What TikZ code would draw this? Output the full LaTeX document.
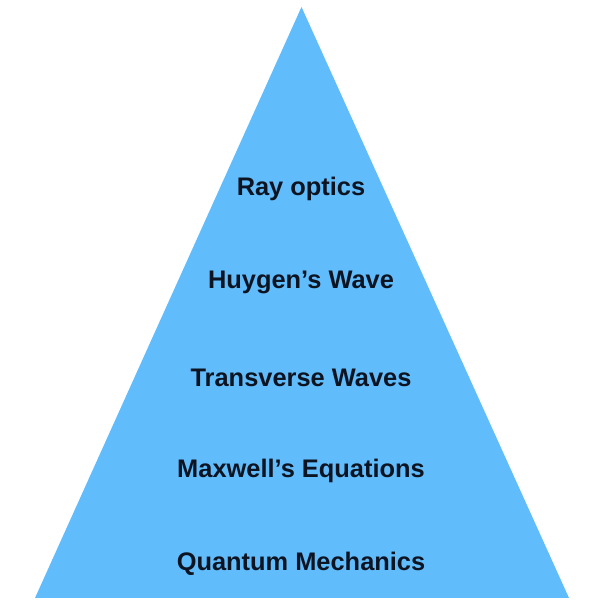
\documentclass[tikz,border=0pt]{standalone}
\usepackage{fontspec}
\setmainfont{Liberation Sans}
\definecolor{pyrblue}{RGB}{97,188,251}
\definecolor{pyrtext}{RGB}{12,20,34}
\begin{document}
\begin{tikzpicture}[x=1bp,y=1bp,
  layer/.style={font=\fontsize{25.5}{30}\selectfont\bfseries, text=pyrtext, anchor=center, inner sep=0pt}]
\useasboundingbox (0,0) rectangle (600,608);
\coordinate (apex) at (301.5,601);
\coordinate (bl) at (35,10);
\coordinate (br) at (569,10);
\fill[pyrblue] (apex) -- (br) -- (bl) -- cycle;
\node[layer] (ray) at (301,419) {Ray optics};
\node[layer] (huy) at (301,326) {Huygen’s Wave};
\node[layer] (tra) at (301,230) {Transverse Waves};
\node[layer] (max) at (301,137) {Maxwell’s Equations};
\node[layer] (qua) at (301,44) {Quantum Mechanics};
\end{tikzpicture}
\end{document}
